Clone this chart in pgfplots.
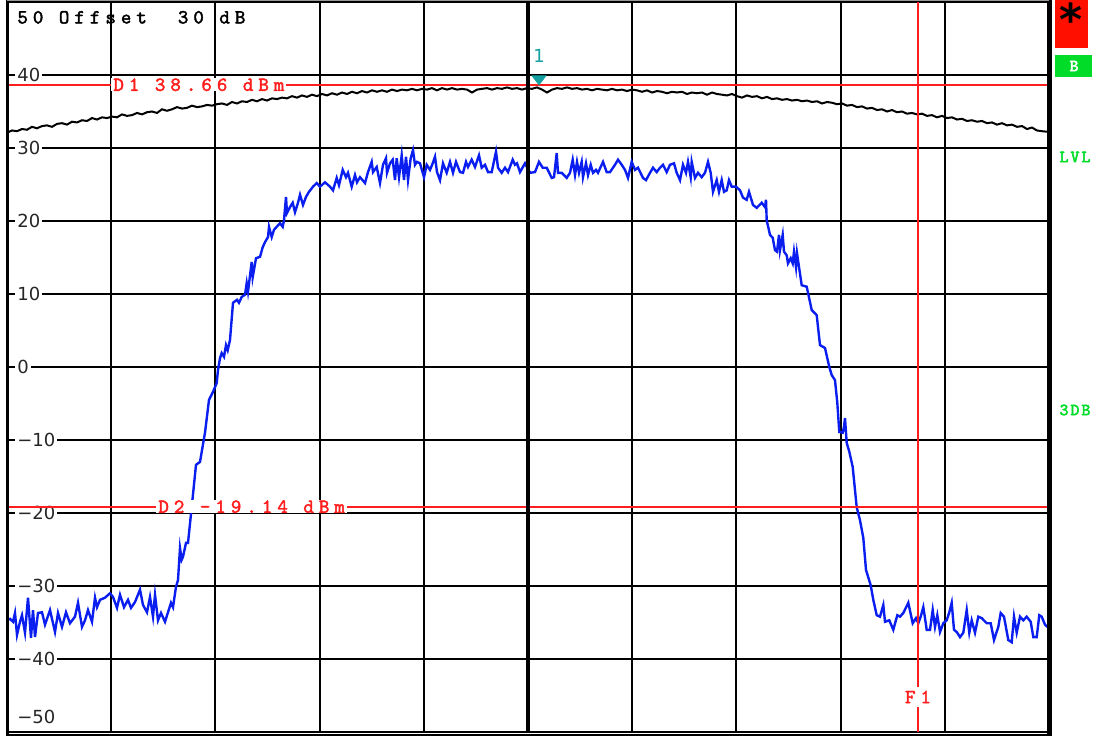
\documentclass[border=0pt]{standalone}
\usepackage{pgfplots}
\pgfplotsset{compat=1.18}
\usepackage{fontspec}
\setmainfont{DejaVu Sans}
\newfontfamily\tickfont{DejaVu Sans}
\newfontfamily\mkfam[Extension=.otf, LetterSpace=25, FakeBold=2]{lmmono10-regular}
\newfontfamily\grfam[Extension=.otf, LetterSpace=12, FakeBold=3]{lmmono10-regular}
\newcommand\mkfont{\mkfam\fontsize{10}{10}\selectfont}
\newcommand\grfont{\grfam\fontsize{8.5}{8.5}\selectfont}
\definecolor{mkred}{RGB}{255,30,30}
\definecolor{trblue}{RGB}{10,30,240}
\definecolor{mkteal}{RGB}{20,160,160}
\definecolor{stgreen}{RGB}{0,220,40}
\definecolor{boxred}{RGB}{255,15,0}
\begin{document}
\begin{tikzpicture}[x=1pt,y=1pt]
\useasboundingbox (0,0) rectangle (547,368);
\begin{axis}[
  at={(3.5pt,2pt)}, anchor=south west,
  scale only axis, width=521pt, height=365pt,
  xmin=7, xmax=1049, ymin=-50, ymax=50,
  axis line style={black, line width=1pt},
  xtick={7,111.2,215.4,319.6,423.8,528,632.2,736.4,840.6,944.8,1049},
  xticklabels={},
  ytick={-40,-30,-20,-10,0,10,20,30,40},
  yticklabels={−40,−30,−20,−10,0,10,20,30,40},
  major tick length=0pt,
  grid=major,
  major grid style={black, line width=1pt},
  yticklabel style={anchor=west, xshift=4pt, fill=white, inner xsep=1pt, inner ysep=0.5pt, font=\tickfont\fontsize{9}{9}\selectfont, text=black!85},
]
% black trace (max hold)
\addplot[black, line width=1pt] table {
7 32.1
12 32.4
17 32.3
22 32.6
27 32.5
32 32.9
37 32.7
42 33.0
47 33.1
52 32.9
57 33.3
62 33.4
67 33.2
72 33.6
77 33.5
82 33.8
87 33.7
92 34.1
97 33.9
102 34.2
107 34.1
112 34.3
117 34.2
122 34.6
127 34.4
132 34.5
137 34.8
142 34.6
147 34.9
152 35.0
157 34.8
162 35.3
167 35.1
172 35.3
177 35.6
182 35.4
187 35.5
192 35.8
197 35.6
202 35.7
207 35.9
212 35.8
217 36.0
222 36.1
227 35.9
232 36.3
237 36.1
242 36.4
247 36.3
252 36.6
257 36.4
262 36.7
267 36.5
272 36.8
277 36.7
282 36.9
287 36.8
292 37.1
297 36.9
302 37.2
307 37.0
312 37.3
317 37.1
322 37.4
327 37.2
332 37.5
337 37.3
342 37.6
347 37.4
352 37.7
357 37.5
362 37.8
367 37.6
372 37.9
377 37.7
382 37.9
387 37.7
392 38.0
397 37.8
402 38.0
407 37.9
412 38.1
417 37.9
422 38.1
427 38.0
432 38.2
437 37.9
442 38.2
447 38.0
452 38.2
457 38.0
462 38.1
467 38.0
472 37.6
477 38.0
482 38.1
487 38.2
492 38.0
497 38.2
502 38.1
507 38.3
512 38.1
517 38.2
522 38.0
527 38.2
532 38.1
537 38.3
542 38.0
547 37.6
552 38.0
557 38.2
562 38.1
567 38.3
572 38.1
577 38.2
582 38.0
587 38.1
592 37.9
597 38.1
602 38.0
607 37.9
612 38.1
617 37.9
622 38.0
627 37.8
632 38.0
637 37.9
642 37.7
647 37.9
652 37.6
657 37.8
662 37.7
667 37.5
672 37.7
677 37.6
682 37.7
687 37.4
692 37.6
697 37.5
702 37.6
707 37.3
712 37.6
717 37.4
722 37.3
727 37.2
732 37.4
737 37.1
742 36.9
747 37.2
752 37.0
757 37.1
762 36.8
767 37.0
772 36.7
777 36.8
782 36.6
787 36.7
792 36.5
797 36.6
802 36.4
807 36.5
812 36.3
817 36.4
822 36.1
827 36.3
832 36.2
837 36.0
842 36.1
847 35.8
852 35.9
857 35.6
862 35.7
867 35.4
872 35.5
877 35.2
882 35.3
887 35.0
892 35.2
897 34.9
902 35.0
907 34.7
912 34.8
917 34.6
922 34.7
927 34.4
932 34.5
937 34.2
942 34.4
947 34.1
952 34.2
957 33.9
962 34.0
967 33.7
972 33.8
977 33.6
982 33.7
987 33.4
992 33.5
997 33.2
1002 33.4
1007 33.1
1012 33.2
1017 32.9
1022 33.0
1027 32.6
1032 32.8
1037 32.4
1042 32.3
1049 32.2
};
% blue trace
\addplot[trblue, line width=1.2pt] table {
7 -34.7
10 -34.5
13 -34.9
15 -33.7
17 -36.7
20 -34.9
22 -34.0
25 -36.4
28 -31.6
31 -37.1
33 -33.3
35 -37.0
38 -33.7
42 -33.6
45 -35.3
50 -33.3
55 -36.3
58 -33.7
62 -35.6
66 -33.6
70 -35.1
75 -34.2
78 -32.3
82 -35.6
85 -34.7
88 -33.3
92 -34.9
95 -31.6
97 -32.9
100 -31.9
105 -31.6
110 -31.0
113 -31.5
117 -33.0
120 -31.2
124 -32.9
128 -31.9
131 -33.0
135 -32.2
140 -30.5
143 -32.6
147 -33.6
150 -31.5
153 -34.2
155 -31.2
158 -34.7
161 -33.7
165 -34.9
168 -33.6
171 -32.3
173 -32.9
176 -30.1
178 -29.2
180 -24.8
181.7 -26.4
183 -26.0
186 -24.1
188 -24.1
191.7 -19.2
196 -13.4
200 -13.0
205 -9.0
209 -4.5
213 -3.4
216.7 -2.2
218 -0.4
220 1.2
221.7 1.9
224 1.4
226 3.0
227.7 2.3
230 3.7
233 8.8
237 9.2
239 8.8
241.7 9.6
245 9.9
246.7 11.5
248 10.3
251.7 14.4
252.7 12.3
256 14.9
260 15.1
262.7 16.4
265 17.1
268 17.8
269 19.2
271.7 17.8
274 18.8
276.7 19.2
280 19.7
282.7 19.2
284 20.1
286 23.3
287 21.1
290 21.9
292.7 22.5
295 21.2
298 22.5
300 23.6
303 22.2
306 23.3
309 24.0
313 24.7
316.7 25.2
320 24.7
325 25.3
330 24.7
333 24.2
336.7 25.9
339 24.9
342.7 27.0
346 26.0
348 26.6
351.7 24.7
355 26.3
357 25.3
360 26.0
365 25.2
368 26.7
371.7 28.1
373 26.7
376.7 27.4
380 25.2
383 27.7
386 28.6
387 26.6
390 27.9
392.7 28.4
395 25.6
396.7 28.6
399 26.0
401.7 29.0
404 25.6
406 28.8
408 25.6
410.7 28.6
413 29.7
415 27.7
417 28.1
420 27.9
424 26.0
426.7 27.7
430 27.0
432.7 27.9
435 28.8
437 26.7
440 25.6
443 27.9
446.7 26.6
450 28.1
453 26.6
456 28.1
460 26.7
463 26.6
466 28.1
468 27.4
471.7 28.4
475 27.4
479 29.0
481.7 27.3
485 27.7
488 26.7
491.7 26.7
496 29.5
498 27.3
501.7 26.6
505 27.3
508 26.7
512.7 28.4
515 27.7
517 27.9
520 26.7
525 27.9
530 26.6
535 26.7
539 28.1
542.7 27.3
546.7 27.3
551.7 25.9
554 26.0
556.7 29.3
558 26.6
561.7 26.6
566.7 25.9
570 26.6
572.7 28.4
575 26.3
577 28.1
579 26.6
581.7 28.1
583 26.0
586 27.9
588 26.3
590.7 27.7
593 26.6
596 27.0
598 26.6
603 28.1
606.7 26.7
610 26.7
615 27.7
618 28.4
621.7 27.7
625 27.0
628 25.9
631.7 28.1
635 27.0
638 27.3
643 25.9
646 25.6
650 26.6
653 27.3
656.7 26.7
660 27.3
663 27.7
666.7 26.7
670 27.7
674 27.9
676.7 26.6
680 25.6
683 27.7
686 26.6
688 28.1
690.7 26.0
691.7 28.1
695 25.9
698 26.6
701.7 26.0
705 26.6
708 28.1
710.7 26.6
713 24.0
716.7 25.6
719 24.0
721.7 25.6
724 24.0
726.7 24.2
729 25.6
731.7 24.7
736 24.7
740 24.2
743 23.2
746.7 22.9
749 24.0
753 22.2
756.7 21.8
761.7 22.5
765 21.9
766 22.9
766.7 20.1
770 18.1
772.7 17.7
775 16.0
777 15.8
779 18.1
780 16.0
782.7 18.1
784 15.8
786.7 15.3
788 14.2
790.7 14.9
792.7 14.2
794 15.8
796 13.7
797 15.6
799 13.7
801.7 11.2
806.7 11.0
811.7 7.8
816.7 7.1
820 3.0
825 2.6
829.3 0.0
831.7 -1.1
835 -1.8
837.3 -4.9
839.3 -8.9
842.7 -9.0
844 -8.2
845 -7.0
846.7 -10.4
849.3 -11.6
852.7 -13.7
856.7 -19.2
860 -21.0
863.3 -23.4
866 -27.8
870.7 -29.9
873.3 -31.9
876.7 -34.0
880 -34.2
883.3 -32.6
885 -34.9
889.3 -34.7
893.3 -36.0
897.3 -34.0
900 -34.2
903.3 -33.7
908.3 -32.3
912.7 -35.1
916 -34.4
918.3 -35.1
920.7 -34.2
923.3 -32.9
925 -34.4
926.7 -36.0
930 -36.0
932.7 -33.3
935 -35.6
937.3 -34.0
940 -36.3
943.3 -35.1
946.7 -34.7
949.3 -33.6
951.7 -32.3
954 -36.0
956.7 -36.3
960 -37.0
963.3 -36.4
966.7 -33.3
969.3 -36.4
971.7 -34.7
975 -36.4
978.3 -34.2
981.7 -34.4
986.7 -35.1
990.7 -35.1
994 -37.4
998.3 -35.6
1000.7 -33.7
1004 -34.2
1008.3 -37.4
1011.7 -37.7
1014 -34.2
1016.7 -36.4
1020 -34.2
1023.3 -34.7
1026.7 -34.2
1030.7 -34.9
1033.3 -37.0
1036.7 -37.0
1039.3 -34.0
1041.7 -34.2
1045 -35.3
1049 -35.8
};
% display lines and frequency line
\addplot[mkred, line width=1pt] coordinates {(7,38.66) (1049,38.66)};
\addplot[mkred, line width=1pt] coordinates {(7,-19.14) (1049,-19.14)};
\addplot[mkred, line width=1pt] coordinates {(918,-50) (918,50)};
\node[anchor=west, fill=white, inner xsep=1pt, inner ysep=0pt, text=mkred, font=\mkfont] at (axis cs:111,38.66) {D1 38.66 dBm};
\node[anchor=west, fill=white, inner xsep=1pt, inner ysep=0pt, text=mkred, font=\mkfont] at (axis cs:156,-19.14) {D2 -19.14 dBm};
\node[fill=white, inner xsep=0pt, inner ysep=2pt, text=mkred, font=\mkfont] at (axis cs:918,-45.2) {F1};
% marker 1
\addplot[mkteal, only marks, mark=triangle*, mark size=4pt,
  mark options={yshift=3pt, yscale=0.75, rotate=180, fill=mkteal, draw=mkteal},
  nodes near coords={1},
  every node near coord/.style={anchor=south, yshift=8pt, inner sep=0pt, text=mkteal, font=\tickfont\fontsize{9}{9}\selectfont}]
  coordinates {(539,38.66)};
% corner labels
\node[anchor=west, inner sep=0pt, font=\mkfont] at (axis cs:17,47.9) {50 Offset\ \ 30 dB};
\node[anchor=west, fill=white, inner xsep=1pt, inner ysep=0.5pt, font=\tickfont\fontsize{9}{9}\selectfont, text=black!85] at (axis cs:15,-47.9) {−50};
\end{axis}
% frame details
\draw[black, line width=1.5pt] (3.5,0) -- (3.5,368);
\draw[black, line width=2.5pt] (524.5,0) -- (524.5,368);
\draw[black, line width=1.8pt] (264,2) -- (264,367);
\draw[black, line width=0.8pt] (3.5,0.6) -- (524.5,0.6);
\draw[black!40, line width=0.5pt] (3.5,367.8) -- (524.5,367.8);
% side panel
\fill[boxred] (527.5,344) rectangle (544,368);
\node[font=\bfseries\fontsize{22}{22}\selectfont, inner sep=0pt] at (535.5,358.5) {*};
\fill[stgreen] (527.5,329.5) rectangle (546,340.5);
\node[text=white, font=\grfont, inner sep=0pt] at (537,335) {B};
\node[text=stgreen, font=\grfont, inner sep=0pt] at (537.5,289.5) {LVL};
\node[text=stgreen, font=\grfont, inner sep=0pt] at (537.5,163) {3DB};
\end{tikzpicture}
\end{document}
